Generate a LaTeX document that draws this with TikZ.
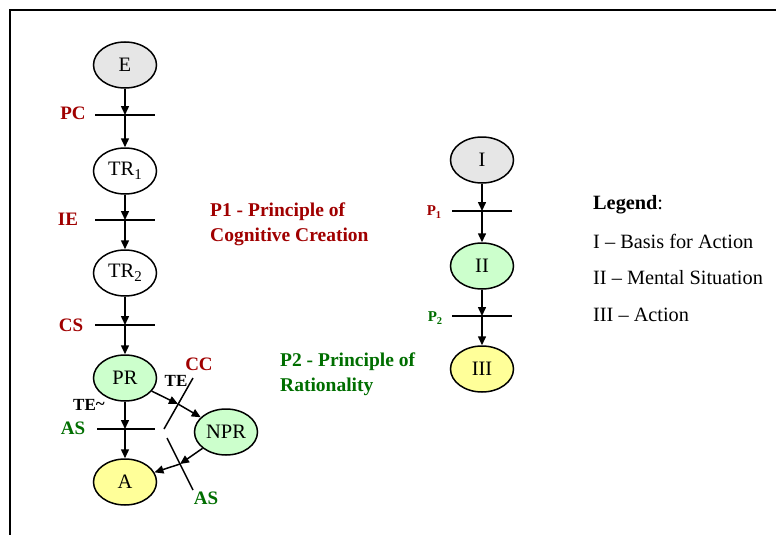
\documentclass[tikz,border=0pt]{standalone}
\usepackage{fontspec}
\setmainfont{Liberation Serif}
\usetikzlibrary{arrows.meta,shapes.geometric}
\definecolor{darkred}{RGB}{160,0,0}
\definecolor{dgreen}{RGB}{0,110,0}
\definecolor{greyfill}{RGB}{230,230,230}
\definecolor{greenfill}{RGB}{204,255,204}
\definecolor{yellowfill}{RGB}{255,255,153}
\newcommand{\lowsub}[1]{\raisebox{-0.4ex}{\fontsize{15}{15}\selectfont #1}}
\newcommand{\smallsub}[1]{\raisebox{-0.45ex}{\fontsize{10.5}{10.5}\selectfont #1}}

\begin{document}
\begin{tikzpicture}[x=1pt,y=-1pt,
  state/.style={ellipse,draw,line width=1.5pt,minimum width=63pt,minimum height=46pt,
                inner sep=0pt,font=\fontsize{20.5}{24}\selectfont},
  arr/.style={line width=1.5pt,-{Triangle[length=9pt,width=8pt]}},
  bar/.style={line width=1.5pt},
  redlbl/.style={text=darkred,font=\fontsize{19}{24}\selectfont\bfseries},
  greenlbl/.style={text=dgreen,font=\fontsize{19}{24}\selectfont\bfseries},
  blacklbl/.style={font=\fontsize{17}{20}\selectfont\bfseries},
  para/.style={align=left,anchor=north west,inner sep=0pt,font=\fontsize{19.5}{25}\selectfont\bfseries},
  legend/.style={anchor=west,inner sep=0pt,font=\fontsize{20.3}{24}\selectfont}
]
\useasboundingbox (0,0) rectangle (776,535);

% frame
\draw[line width=1.8pt] (10,535) -- (10,10) -- (776,10);

% left chain
\node[state,fill=greyfill]   (E)   at (125,65)  {E};
\node[state,fill=white]      (TR1) at (125,171) {TR\lowsub{1}};
\node[state,fill=white]      (TR2) at (125,273) {TR\lowsub{2}};
\node[state,fill=greenfill]  (PR)  at (125,378) {PR};
\node[state,fill=greenfill]  (NPR) at (226,432) {NPR};
\node[state,fill=yellowfill] (A)   at (125,482) {A};

% crossing bars
\coordinate (c1) at (125,115);
\coordinate (c2) at (125,220);
\coordinate (c3) at (125,325);
\coordinate (c4) at (125,429);
\draw[bar] (95,115) -- (155,115);
\draw[bar] (95,220) -- (155,220);
\draw[bar] (95,325) -- (155,325);
\draw[bar] (97,429) -- (155,429);

\node[redlbl]   (pc) at (73,113) {PC};
\node[redlbl]   (ie) at (68,219) {IE};
\node[redlbl]   (cs) at (71,325) {CS};
\node[greenlbl] (as1) at (73,428) {AS};
\node[blacklbl] (tet) at (89,405) {TE\raisebox{0.15ex}{\textasciitilde}};

\draw[arr] (E) -- (c1);
\draw[arr] (c1) -- (TR1);
\draw[arr] (TR1) -- (c2);
\draw[arr] (c2) -- (TR2);
\draw[arr] (TR2) -- (c3);
\draw[arr] (c3) -- (PR);
\draw[arr] (PR) -- (c4);
\draw[arr] (c4) -- (A);

% slanted bars
\draw[bar] (193,378) -- (164,429);
\draw[bar] (167,438) -- (193,490);
\coordinate (m1) at (178,404);
\coordinate (m2) at (180,464);
\draw[arr] (PR) -- (m1);
\draw[arr] (m1) -- (NPR);
\draw[arr] (NPR) -- (m2);
\draw[arr] (m2) -- (A);

\node[blacklbl] (te) at (176,381) {TE};
\node[redlbl]   (cc) at (199,364) {CC};
\node[greenlbl] (as2) at (206,498) {AS};

% principles
\node[para,text=darkred] (p1) at (210,203) {P1 - Principle of\\Cognitive Creation};
\node[para,text=dgreen]  (p2) at (280,353) {P2 - Principle of\\Rationality};

% right chain
\node[state,fill=greyfill]   (I)   at (482,160) {I};
\node[state,fill=greenfill]  (II)  at (482,266) {II};
\node[state,fill=yellowfill] (III) at (482,369) {III};
\coordinate (d1) at (482,211);
\coordinate (d2) at (482,316);
\draw[bar] (452,211) -- (512,211);
\draw[bar] (452,316) -- (512,316);
\draw[arr] (I) -- (d1);
\draw[arr] (d1) -- (II);
\draw[arr] (II) -- (d2);
\draw[arr] (d2) -- (III);
\node[text=darkred,font=\fontsize{15}{16}\selectfont\bfseries] (pp1) at (434,212) {P\smallsub{1}};
\node[text=dgreen,font=\fontsize{15}{16}\selectfont\bfseries]  (pp2) at (435,318) {P\smallsub{2}};

% legend
\node[legend] (lg)  at (593,205) {\textbf{Legend}:};
\node[legend] (lg1) at (593,241) {I -- Basis for Action};
\node[legend] (lg2) at (593,278) {II -- Mental Situation};
\node[legend] (lg3) at (593,315) {III -- Action};
\end{tikzpicture}
\end{document}
